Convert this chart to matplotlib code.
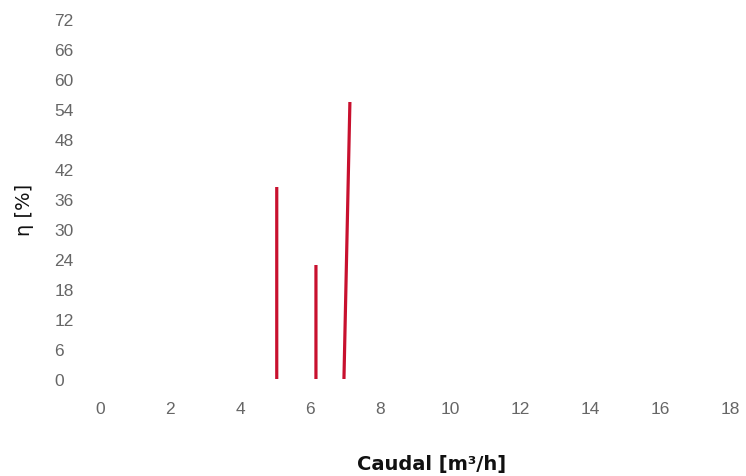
import numpy as np
import matplotlib
matplotlib.use("Agg")
import matplotlib.pyplot as plt

# Data: three measured segments (caudal vs eficiencia), NaN breaks between them
caudal = [5.05, 5.05, np.nan, 6.17, 6.17, np.nan, 6.97, 7.14]
eficiencia = [0, 38.4, np.nan, 0, 22.8, np.nan, 0, 55.4]

x_ticks = list(range(0, 19, 2))
y_ticks = list(range(0, 73, 6))

fig = plt.figure(figsize=(7.46, 4.77), dpi=100)
ax = fig.add_axes([100 / 746, 97 / 477, 630 / 746, 360 / 477])

ax.plot(caudal, eficiencia, color="#c8102e", linewidth=2.3, solid_capstyle="butt")

ax.set_xlim(0, 18)
ax.set_ylim(0, 72)
ax.set_xticks(x_ticks)
ax.set_yticks(y_ticks)

for s in ax.spines.values():
    s.set_visible(False)

ax.tick_params(axis="both", length=0, labelsize=12.5, labelcolor="#666666")
ax.tick_params(axis="x", pad=16)
ax.tick_params(axis="y", pad=33)
for lab in ax.get_yticklabels():
    lab.set_horizontalalignment("left")
    lab.set_fontfamily("Liberation Sans")
for lab in ax.get_xticklabels():
    lab.set_fontfamily("Liberation Sans")

fig.text(432 / 746, 1 - 465 / 477, "Caudal [m³/h]", ha="center", va="center",
         fontsize=14, fontweight="bold", color="#111111", family="DejaVu Sans")
fig.text(25 / 746, 1 - 210 / 477, "η [%]", ha="center", va="center",
         rotation=90, fontsize=14, color="#111111", family="DejaVu Sans")

fig.savefig("out.png", dpi=100)
